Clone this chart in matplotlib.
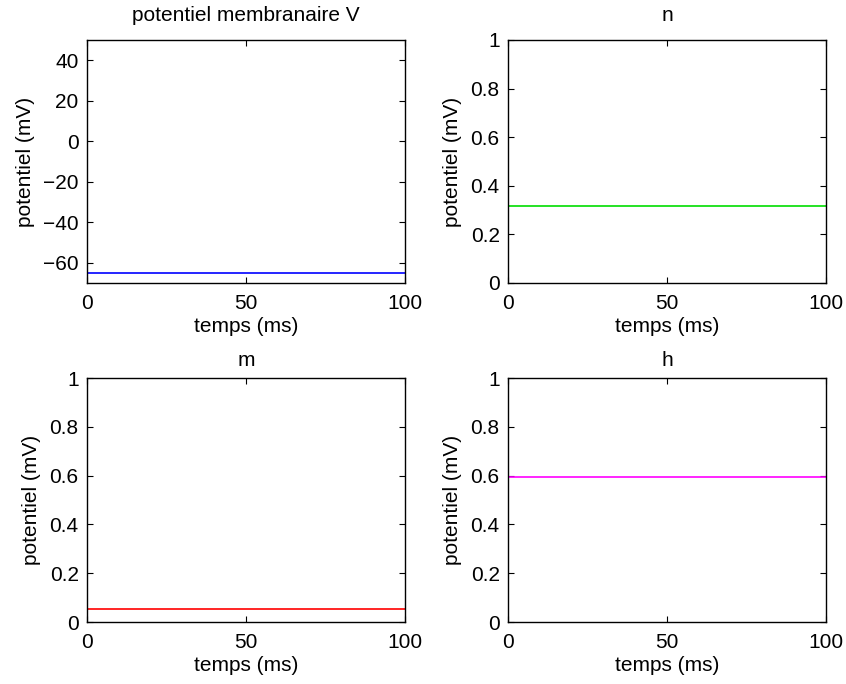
import matplotlib
matplotlib.use('Agg')
import matplotlib.pyplot as plt

# simulation time (ms) and resting-state values of the HH variables
t = [0, 100]
V = [-65.0, -65.0]
n = [0.3177, 0.3177]
m = [0.0529, 0.0529]
h = [0.5961, 0.5961]

titles = ['potentiel membranaire V', 'n', 'm', 'h']
ylims = [(-70, 50), (0, 1), (0, 1), (0, 1)]
yticks = [[-60, -40, -20, 0, 20, 40], [0, 0.2, 0.4, 0.6, 0.8, 1],
          [0, 0.2, 0.4, 0.6, 0.8, 1], [0, 0.2, 0.4, 0.6, 0.8, 1]]
ytick_labels = [['\u221260', '\u221240', '\u221220', '0', '20', '40'],
                ['0', '0.2', '0.4', '0.6', '0.8', '1'],
                ['0', '0.2', '0.4', '0.6', '0.8', '1'],
                ['0', '0.2', '0.4', '0.6', '0.8', '1']]
series = [V, n, m, h]
colors = ['#0000ff', '#00dd00', '#ff0000', '#ff00ff']

plt.rcParams['font.family'] = ['Liberation Sans', 'DejaVu Sans']
plt.rcParams['font.size'] = 15

fig = plt.figure(figsize=(8.46, 6.84), dpi=100)
positions = [
    [0.1028, 0.5863, 0.3759, 0.3553],
    [0.6005, 0.5863, 0.3759, 0.3553],
    [0.1028, 0.0906, 0.3759, 0.3567],
    [0.6005, 0.0906, 0.3759, 0.3567],
]

for i in range(4):
    ax = fig.add_axes(positions[i])
    ax.plot(t, series[i], color=colors[i], linewidth=1.2)
    ax.set_xlim(0, 100)
    ax.set_ylim(*ylims[i])
    ax.set_xticks([0, 50, 100])
    ax.set_yticks(yticks[i])
    ax.set_yticklabels(ytick_labels[i])
    ax.tick_params(direction='in', top=True, right=True, length=4, width=0.8, pad=6)
    ax.tick_params(axis='x', pad=8)
    for s in ax.spines.values():
        s.set_linewidth(1.0)
    ax.set_title(titles[i], fontsize=15, pad=14 if i < 2 else 9)
    ax.set_xlabel('temps (ms)', labelpad=3)
    ax.set_ylabel('potentiel (mV)', labelpad=6)

plt.savefig('out.png', dpi=100)
